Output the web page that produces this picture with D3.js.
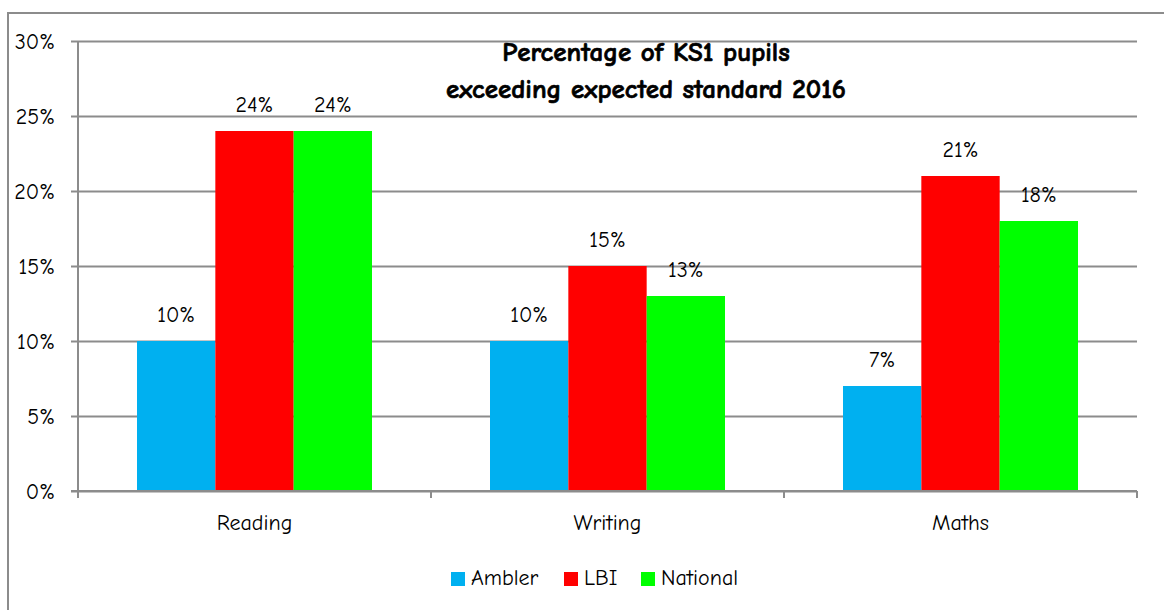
<!DOCTYPE html>
<html>
<head>
<meta charset="utf-8">
<script src="https://cdn.jsdelivr.net/npm/d3@7"></script>
<style>
  body { margin: 0; background: #fff; }
  svg { display: block; font-family: "Comic Sans MS", "Comic Neue", "DejaVu Sans", sans-serif; }
</style>
</head>
<body>
<svg id="chart" width="1164" height="610"></svg>
<script>
'use strict';

// chart data
var categories = ['Reading', 'Writing', 'Maths'];
var seriesNames = ['Ambler', 'LBI', 'National'];
var seriesColors = ['#00b0f0', '#ff0000', '#00ff00'];
var amblerValues = [10, 10, 7];
var lbiValues = [24, 15, 21];
var nationalValues = [24, 13, 18];
var yTicks = [0, 5, 10, 15, 20, 25, 30];
var titleLines = ['Percentage of KS1 pupils', 'exceeding expected standard 2016'];

var allValues = [amblerValues, lbiValues, nationalValues];

var svg = d3.select('#chart');

// plot area
var plot = { left: 78, right: 1137, top: 41, bottom: 491 };
var labelSize = '22px';

// outer frame (runs off the page right and bottom)
svg.append('rect')
	.attr('x', 8).attr('y', 13)
	.attr('width', 1200).attr('height', 700)
	.attr('fill', 'none')
	.attr('stroke', '#8c8c8c')
	.attr('stroke-width', 2);

var x = d3.scaleBand()
	.domain(categories)
	.range([plot.left, plot.right])
	.paddingInner(0)
	.paddingOuter(0);

var x1 = d3.scaleBand()
	.domain(seriesNames)
	.range([59, x.bandwidth() - 59])
	.padding(0);

var y = d3.scaleLinear()
	.domain([0, 30])
	.range([plot.bottom, plot.top]);

// gridlines + y axis
var yAxis = d3.axisLeft(y)
	.tickValues(yTicks)
	.tickSize(-(plot.right - plot.left) - 7)
	.tickPadding(14)
	.tickFormat(function(d) { return d + '%'; });

var gy = svg.append('g')
	.attr('transform', 'translate(' + plot.right + ',0)')
	.call(yAxis)
	.attr('font-family', null)
	.attr('font-size', null);
gy.select('.domain').remove();
gy.selectAll('.tick line')
	.attr('x1', 0)
	.attr('x2', -(plot.right - plot.left) - 7)
	.attr('stroke', '#8c8c8c')
	.attr('stroke-width', 2);
gy.selectAll('.tick text')
	.attr('x', -(plot.right - plot.left) - 23)
	.attr('dy', '0.35em')
	.attr('fill', '#000')
	.style('font-size', labelSize);

// vertical axis line
svg.append('line')
	.attr('x1', plot.left).attr('x2', plot.left)
	.attr('y1', plot.top).attr('y2', plot.bottom + 7)
	.attr('stroke', '#8c8c8c')
	.attr('stroke-width', 2);

// x axis tick marks at band edges
var edges = categories.map(function(c) { return x(c) + x.bandwidth(); });
svg.selectAll('.xtick')
	.data(edges)
	.enter().append('line')
	.attr('class', 'xtick')
	.attr('x1', function(d) { return d; })
	.attr('x2', function(d) { return d; })
	.attr('y1', plot.bottom)
	.attr('y2', plot.bottom + 7)
	.attr('stroke', '#8c8c8c')
	.attr('stroke-width', 2);

// bars
var groups = svg.selectAll('.group')
	.data(categories)
	.enter().append('g')
	.attr('class', 'group')
	.attr('transform', function(d) { return 'translate(' + x(d) + ',0)'; });

groups.each(function(cat, ci) {
	var g = d3.select(this);
	seriesNames.forEach(function(s, si) {
		var v = allValues[si][ci];
		g.append('rect')
			.attr('x', x1(s))
			.attr('y', y(v))
			.attr('width', x1.bandwidth())
			.attr('height', y(0) - y(v))
			.attr('fill', seriesColors[si]);
		g.append('text')
			.attr('x', x1(s) + x1.bandwidth() / 2)
			.attr('y', y(v) - 19)
			.attr('text-anchor', 'middle')
			.attr('fill', '#000')
			.style('font-size', labelSize)
			.text(v + '%');
	});
});

// redraw baseline on top of bars
svg.append('line')
	.attr('x1', plot.left - 7).attr('x2', plot.right)
	.attr('y1', plot.bottom).attr('y2', plot.bottom)
	.attr('stroke', '#8c8c8c')
	.attr('stroke-width', 2);

// category labels
svg.selectAll('.cat')
	.data(categories)
	.enter().append('text')
	.attr('class', 'cat')
	.attr('x', function(d) { return x(d) + x.bandwidth() / 2; })
	.attr('y', 530)
	.attr('text-anchor', 'middle')
	.attr('fill', '#000')
	.style('font-size', labelSize)
	.text(function(d) { return d; });

// title (stroke thickens the bold a little)
svg.selectAll('.title')
	.data(titleLines)
	.enter().append('text')
	.attr('class', 'title')
	.attr('x', 646)
	.attr('y', function(d, i) { return 61 + i * 37; })
	.attr('text-anchor', 'middle')
	.attr('fill', '#000')
	.attr('stroke', '#000')
	.attr('stroke-width', 0.7)
	.style('font-size', '27px')
	.style('font-weight', 'bold')
	.text(function(d) { return d; });

// legend
var legendX = [451, 564, 641];
var legend = svg.selectAll('.legend')
	.data(seriesNames)
	.enter().append('g')
	.attr('class', 'legend')
	.attr('transform', function(d, i) { return 'translate(' + legendX[i] + ',572)'; });
legend.append('rect')
	.attr('width', 14).attr('height', 14)
	.attr('fill', function(d, i) { return seriesColors[i]; });
legend.append('text')
	.attr('x', 20)
	.attr('y', 13)
	.attr('fill', '#000')
	.style('font-size', labelSize)
	.text(function(d) { return d; });
</script>
</body>
</html>
